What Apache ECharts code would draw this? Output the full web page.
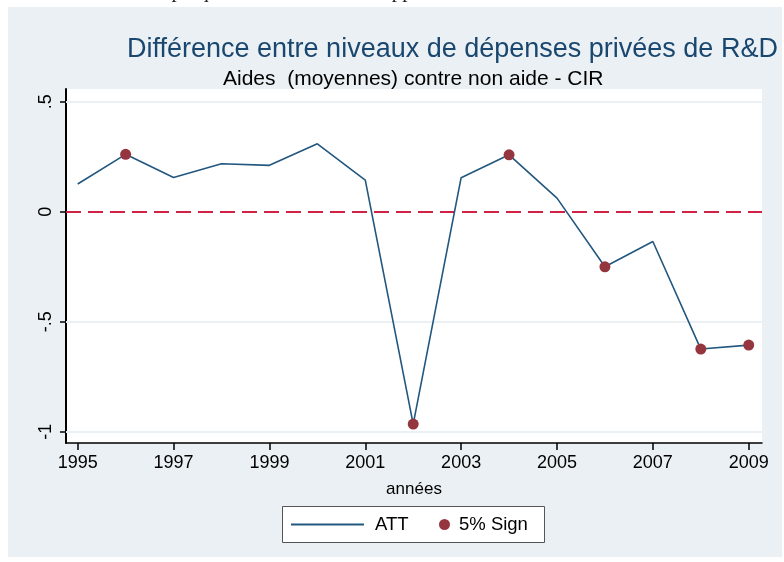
<!DOCTYPE html>
<html>
<head>
<meta charset="utf-8">
<script src="https://cdn.jsdelivr.net/npm/echarts@6/dist/echarts.min.js"></script>
<style>
html,body{margin:0;padding:0;background:#fff;}
#chart{width:784px;height:562px;}
</style>
</head>
<body>
<div id="chart"></div>
<script>
// ---- data ----
const years = [1995,1996,1997,1998,1999,2000,2001,2002,2003,2004,2005,2006,2007,2008,2009];
const att   = [0.126,0.261,0.156,0.218,0.211,0.309,0.144,-0.965,0.155,0.259,0.062,-0.25,-0.135,-0.624,-0.606];
const sigYears = [1996,2002,2004,2006,2008,2009];
const sigVals  = [0.261,-0.965,0.259,-0.25,-0.624,-0.606];
const xTicks = [1995,1997,1999,2001,2003,2005,2007,2009];
const yTicks = [-1,-0.5,0,0.5];
const gridVals = [0.5,-0.5,-1];
const titleText = "Différence entre niveaux de dépenses privées de R&D";
const subtitleText = "Aides  (moyennes) contre non aide - CIR";
const xName = "années";
const seriesNames = ["ATT","5% Sign"];
const docCaption = "Graphique 5 – Résultats de l'appariement CIR en niveaux";

const FONT = '"Liberation Sans", Arial, Helvetica, sans-serif';
const chart = echarts.init(document.getElementById('chart'), null, {renderer:'canvas'});

function fmtY(v){
  if (v === 0) return '0';
  let s = String(v);
  return s.replace(/^(-?)0\./, '$1.');
}

const option = {
  animation:false,
  backgroundColor:'#ffffff',
  graphic:[
    {type:'rect', z:-100, shape:{x:8,y:7,width:774,height:550}, style:{fill:'#EAF0F3'}, silent:true},
    {type:'text', z:10, left:140, top:-19, style:{text:docCaption, font:'21px "Liberation Serif", "Times New Roman", serif', fill:'#222'}},
    {type:'rect', z:5, shape:{x:282.5,y:506.5,width:262,height:36}, style:{fill:'#ffffff', stroke:'#555', lineWidth:1}}
  ],
  title:[
    {text:titleText, left:122, top:31, textStyle:{fontFamily:FONT, fontSize:27, fontWeight:'normal', color:'#1A476F'}},
    {text:subtitleText, left:218, top:64, textStyle:{fontFamily:FONT, fontSize:21, fontWeight:'normal', color:'#000'}}
  ],
  legend:[
    {data:[{name:seriesNames[0], icon:'rect'}], left:291, top:515, itemWidth:73, itemHeight:2, itemGap:0, padding:0,
     itemStyle:{color:'#22577F'},
     textStyle:{fontFamily:FONT, fontSize:18.5, color:'#000', padding:[0,0,0,6]}, selectedMode:false, z:10},
    {data:[{name:seriesNames[1]}], left:439, top:515, itemWidth:11, itemHeight:11, padding:0,
     textStyle:{fontFamily:FONT, fontSize:18.5, color:'#000', padding:[0,0,0,4]}, selectedMode:false, z:10}
  ],
  grid:{left:66, right:22, top:89, bottom:119, show:true, backgroundColor:'#ffffff', borderWidth:0},
  xAxis:{
    type:'value', min:1994.756, max:2009.277,
    name:xName, nameLocation:'middle', nameGap:38,
    nameTextStyle:{fontFamily:FONT, fontSize:17, color:'#000'},
    axisLine:{show:true, onZero:false, lineStyle:{color:'#000', width:1.5}},
    axisTick:{show:true, length:7, lineStyle:{color:'#000', width:1.5}, customValues:xTicks},
    axisLabel:{fontFamily:FONT, fontSize:18, color:'#000', margin:11, customValues:xTicks, formatter:v=>String(v)},
    splitLine:{show:false}
  },
  yAxis:{
    type:'value', min:-1.051, max:0.558,
    axisLine:{show:true, onZero:false, lineStyle:{color:'#000', width:2}},
    axisTick:{show:true, length:6, lineStyle:{color:'#000', width:1.5}, customValues:yTicks},
    axisLabel:{fontFamily:FONT, fontSize:18, color:'#000', rotate:90, margin:11, customValues:yTicks, formatter:v=>fmtY(v)},
    splitLine:{show:false}
  },
  series:[
    {
      name:seriesNames[0], type:'line', z:3,
      data:years.map((y,i)=>[y,att[i]]),
      symbol:'none', showSymbol:false,
      lineStyle:{color:'#22577F', width:1.6}, itemStyle:{color:'#22577F'},
      markLine:{
        silent:true, symbol:'none', label:{show:false}, z:1,
        data:[
          ...gridVals.map(v=>({yAxis:v, lineStyle:{color:'#EAF0F3', width:2, type:'solid'}})),
          {yAxis:0, lineStyle:{color:'#CF2244', width:2, type:[15,7]}}
        ]
      }
    },
    {
      name:seriesNames[1], type:'scatter', z:4,
      data:sigYears.map((y,i)=>[y,sigVals[i]]),
      symbol:'circle', symbolSize:11,
      itemStyle:{color:'#95363F', opacity:1}
    }
  ]
};
chart.setOption(option);
</script>
</body>
</html>
